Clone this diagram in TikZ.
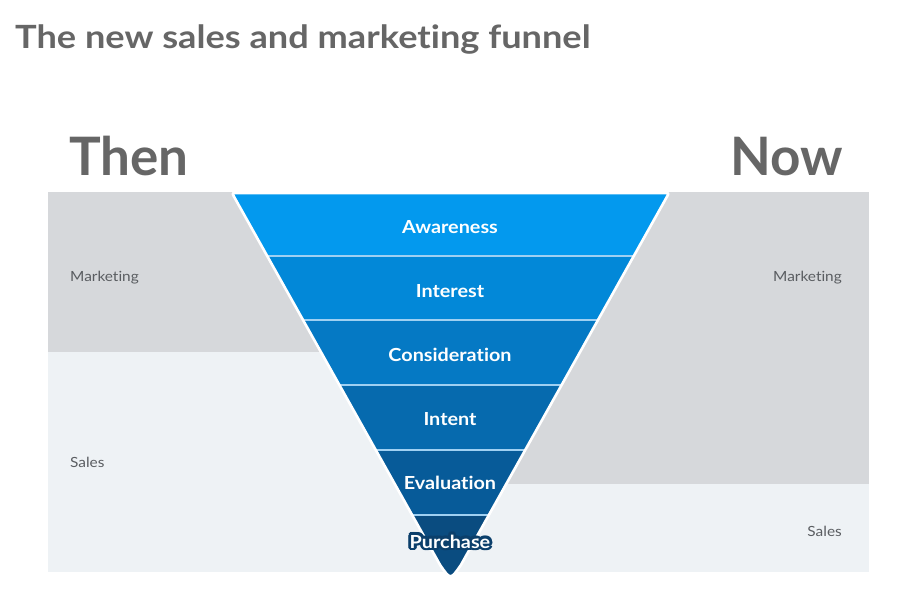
\documentclass[tikz,border=0pt]{standalone}
\usepackage{fontspec}
\usetikzlibrary{calc}
\setmainfont{Lato}[Ligatures=NoCommon]
\newfontfamily\titlefont{Lato}[FakeStretch=1.13, Ligatures=NoCommon]
\newfontfamily\labelfont{Lato}[FakeStretch=1.1, Ligatures=NoCommon]
\definecolor{titlegray}{HTML}{666666}
\definecolor{labelgray}{HTML}{5A5D61}
\definecolor{mktgray}{HTML}{D6D8DB}
\definecolor{salesgray}{HTML}{EEF2F5}
\definecolor{bandA}{HTML}{0399EE}
\definecolor{bandB}{HTML}{0288D8}
\definecolor{bandC}{HTML}{0579C4}
\definecolor{bandD}{HTML}{066AAE}
\definecolor{bandE}{HTML}{075B99}
\definecolor{bandF}{HTML}{0A4C80}
\definecolor{sepblue}{HTML}{9FD0F2}
\definecolor{outlineblue}{HTML}{0B3F6B}
\tikzset{
  bigtitle/.style={inner sep=0pt, text=titlegray, font=\titlefont\bfseries\fontsize{32}{36}\selectfont},
  headword/.style={inner sep=0pt, text=titlegray, font=\bfseries\fontsize{53}{60}\selectfont},
  sidelabel/.style={inner sep=0pt, text=labelgray, font=\labelfont\fontsize{14}{16}\selectfont},
  bandlabel/.style={inner sep=0pt, anchor=base, text=white, font=\labelfont\bfseries\fontsize{18}{20}\selectfont},
  sepline/.style={draw=sepblue, line width=1.6pt},
}
\def\funnelpath{(440.1,565) -- (234.2,197) .. controls (232,193) .. (236.5,193) -- (664.5,193) .. controls (669,193) .. (666.8,197) -- (460.9,565) .. controls (450.5,580) .. (440.1,565) -- cycle}
\begin{document}
\begin{tikzpicture}[x=1pt,y=-1pt]
\useasboundingbox[fill=white] (0,0) rectangle (909,595);
% title
\node[bigtitle, anchor=base west] (title) at (15,48) {The new sales and marketing funnel};
\node[headword, anchor=base west] (then) at (69,175) {Then};
\node[headword, anchor=base east] (now) at (843,175) {Now};
% panels
\fill[mktgray] (48,192) rectangle (452,352);
\fill[salesgray] (48,352) rectangle (452,572);
\fill[mktgray] (449,192) rectangle (869,484);
\fill[salesgray] (449,484) rectangle (869,572);
\node[sidelabel, anchor=base west] (mktL) at (70,281) {Marketing};
\node[sidelabel, anchor=base west] (salesL) at (70,467) {Sales};
\node[sidelabel, anchor=base east] (mktR) at (842,281) {Marketing};
\node[sidelabel, anchor=base east] (salesR) at (842,536) {Sales};
% funnel
\begin{scope}
\clip \funnelpath;
\fill[bandA] (200,180) rectangle (700,256);
\fill[bandB] (200,256) rectangle (700,320);
\fill[bandC] (200,320) rectangle (700,385);
\fill[bandD] (200,385) rectangle (700,450);
\fill[bandE] (200,450) rectangle (700,515);
\fill[bandF] (200,515) rectangle (700,600);
\draw[sepline] (200,256) -- (700,256);
\draw[sepline] (200,320) -- (700,320);
\draw[sepline] (200,385) -- (700,385);
\draw[sepline] (200,450) -- (700,450);
\draw[sepline] (200,515) -- (700,515);
\end{scope}
\draw[white, line width=2.6pt, line join=round] \funnelpath;
% band labels
\node[bandlabel] (awareness) at (450,233) {Awareness};
\node[bandlabel] (interest) at (450,297) {Interest};
\node[bandlabel] (consideration) at (450,361) {Consideration};
\node[bandlabel] (intent) at (450,425) {Intent};
\node[bandlabel] (evaluation) at (450,489) {Evaluation};
\foreach \a in {0,30,...,330} {
  \node[bandlabel, text=outlineblue] (purchase-o\a) at ($(450,548)+(\a:2.8)$) {Purchase};
}
\node[bandlabel] (purchase) at (450,548) {Purchase};
\end{tikzpicture}
\end{document}
